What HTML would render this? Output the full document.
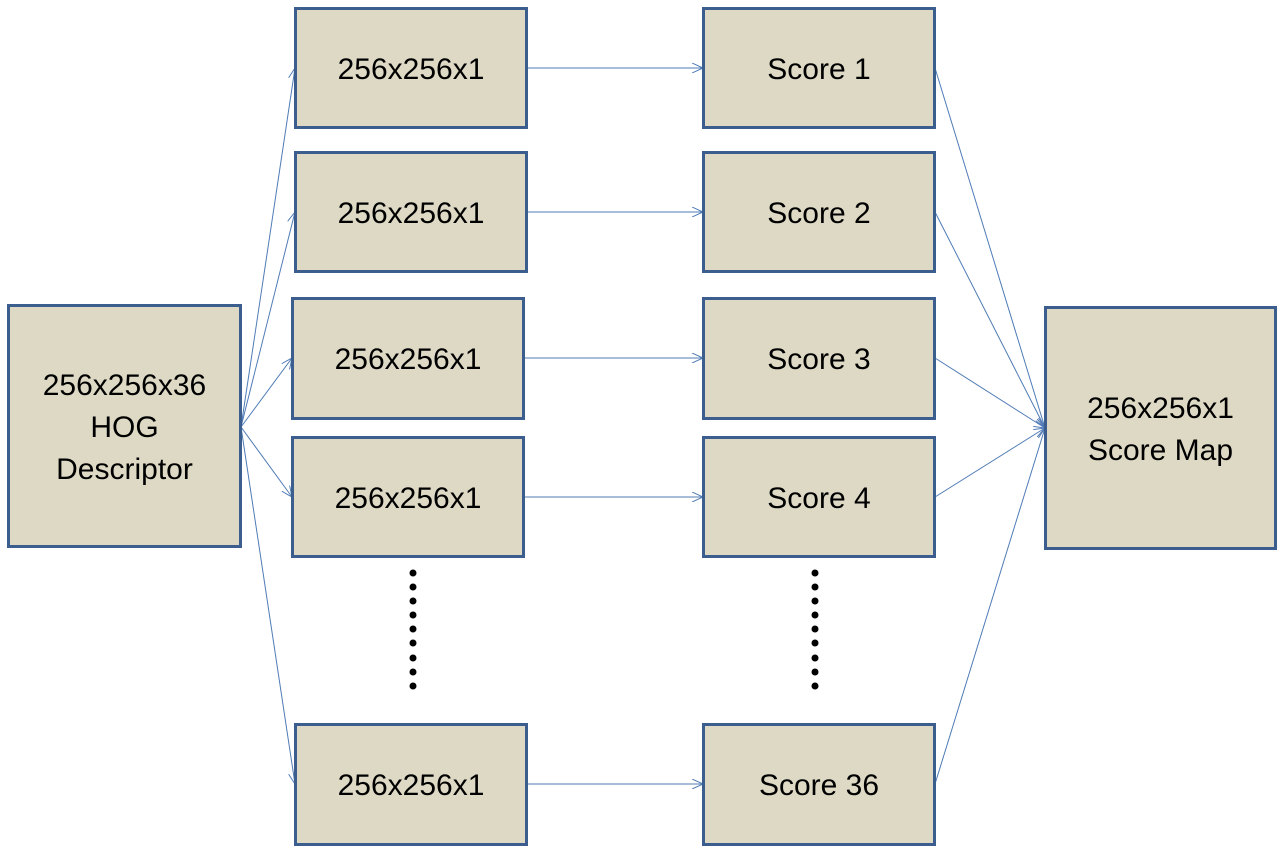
<!DOCTYPE html>
<html><head><meta charset="utf-8"><style>
body{margin:0;background:#fff;width:1285px;height:855px;overflow:hidden;font-family:"Liberation Sans",sans-serif}
svg{position:absolute;left:0;top:0}
.b{position:absolute;box-sizing:border-box;background:#ddd9c4;border:3px solid #3c5e8e;display:flex;align-items:center;justify-content:center;text-align:center;font-size:30px;line-height:42px;color:#000;padding-top:3px}
</style></head><body>
<svg width="1285" height="855">
<defs><marker id="a" markerWidth="12" markerHeight="10" refX="11" refY="5" orient="auto" markerUnits="userSpaceOnUse"><path d="M0,0 L11,5 L0,10" fill="none" stroke="#4f7bb5" stroke-width="1"/></marker></defs>
<g stroke="#4f7bb5" stroke-width="1" fill="none" marker-end="url(#a)">
<line x1="241" y1="427" x2="295" y2="68"/>
<line x1="241" y1="427" x2="295" y2="212"/>
<line x1="241" y1="427" x2="292" y2="358"/>
<line x1="241" y1="427" x2="292" y2="497"/>
<line x1="241" y1="427" x2="295" y2="784"/>
<line x1="527" y1="68" x2="703" y2="68"/>
<line x1="527" y1="212" x2="703" y2="212"/>
<line x1="524" y1="358" x2="703" y2="358"/>
<line x1="524" y1="497" x2="703" y2="497"/>
<line x1="527" y1="784" x2="703" y2="784"/>
<line x1="935" y1="68" x2="1045" y2="428"/>
<line x1="935" y1="212" x2="1045" y2="428"/>
<line x1="935" y1="358" x2="1045" y2="428"/>
<line x1="935" y1="497" x2="1045" y2="428"/>
<line x1="935" y1="784" x2="1045" y2="428"/>
</g>
<g fill="#000">
<circle cx="413" cy="573" r="3.5"/><circle cx="413" cy="587" r="3.5"/><circle cx="413" cy="601" r="3.5"/><circle cx="413" cy="615" r="3.5"/><circle cx="413" cy="629" r="3.5"/><circle cx="413" cy="643" r="3.5"/><circle cx="413" cy="658" r="3.5"/><circle cx="413" cy="672" r="3.5"/><circle cx="413" cy="686" r="3.5"/>
<circle cx="815" cy="573" r="3.5"/><circle cx="815" cy="587" r="3.5"/><circle cx="815" cy="601" r="3.5"/><circle cx="815" cy="615" r="3.5"/><circle cx="815" cy="629" r="3.5"/><circle cx="815" cy="643" r="3.5"/><circle cx="815" cy="658" r="3.5"/><circle cx="815" cy="672" r="3.5"/><circle cx="815" cy="686" r="3.5"/>
</g>
</svg>
<div class="b" style="left:7px;top:304px;width:235px;height:244px">256x256x36<br>HOG<br>Descriptor</div>
<div class="b" style="left:294px;top:7px;width:234px;height:122px">256x256x1</div>
<div class="b" style="left:294px;top:151px;width:234px;height:122px">256x256x1</div>
<div class="b" style="left:291px;top:297px;width:234px;height:123px">256x256x1</div>
<div class="b" style="left:291px;top:436px;width:234px;height:122px">256x256x1</div>
<div class="b" style="left:294px;top:723px;width:234px;height:123px">256x256x1</div>
<div class="b" style="left:702px;top:7px;width:234px;height:122px">Score 1</div>
<div class="b" style="left:702px;top:151px;width:234px;height:122px">Score 2</div>
<div class="b" style="left:702px;top:297px;width:234px;height:123px">Score 3</div>
<div class="b" style="left:702px;top:436px;width:234px;height:122px">Score 4</div>
<div class="b" style="left:702px;top:723px;width:234px;height:123px">Score 36</div>
<div class="b" style="left:1044px;top:306px;width:233px;height:244px">256x256x1<br>Score Map</div>
</body></html>
